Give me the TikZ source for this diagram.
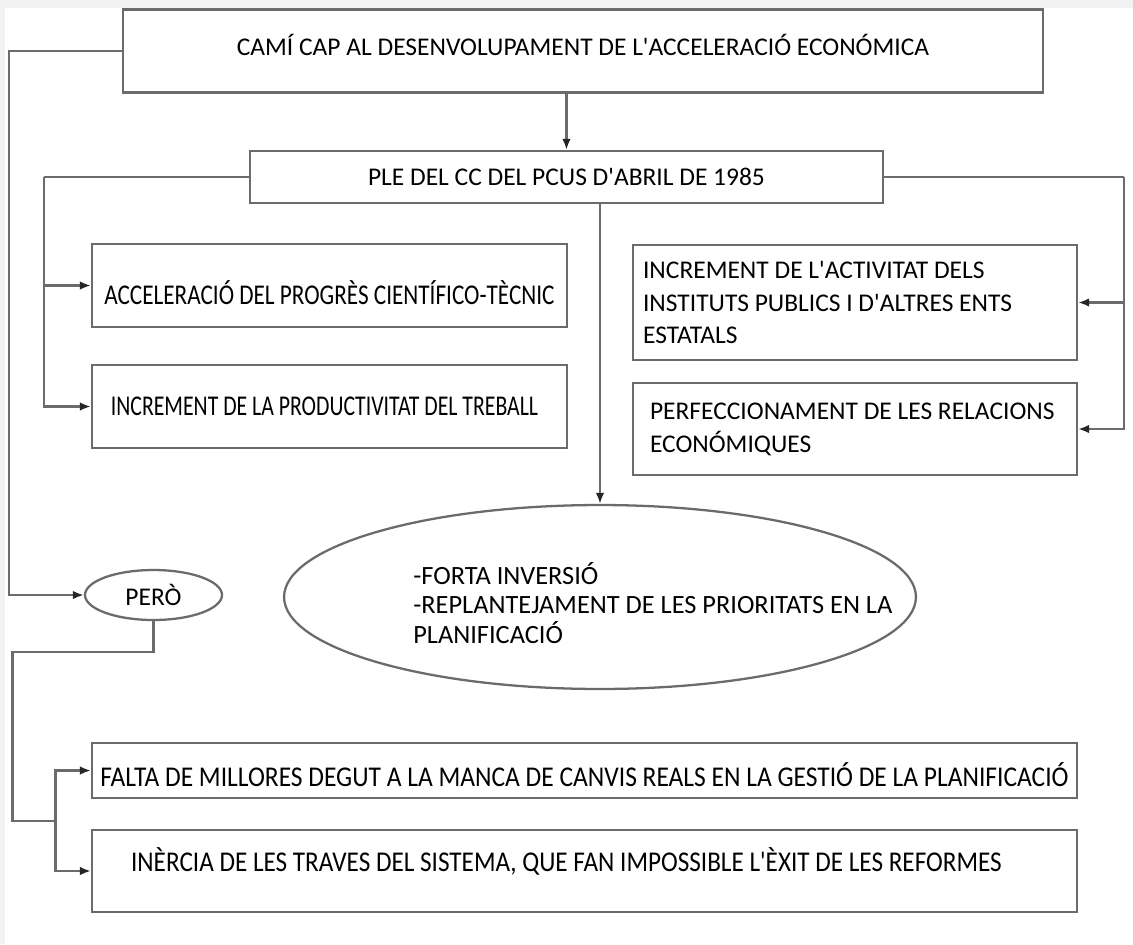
\documentclass[tikz,border=0pt]{standalone}
\usepackage{fontspec}
\usepackage{graphicx}
\newfontfamily\catala{Carlito}
\newcommand{\estret}[2]{\scalebox{#1}[1]{#2}}
\newcommand{\despl}[2]{\raisebox{#1}[0pt][0pt]{#2}}
\usetikzlibrary{arrows.meta,shapes.geometric}

\begin{document}
\begin{tikzpicture}[x=0.02cm,y=-0.02cm]
\tikzset{
    caixa/.style={draw=black!58, line width=1.3pt, rectangle, inner sep=0pt, font=\catala\fontsize{14.5}{18.7}\selectfont},
    gran/.style={font=\catala\fontsize{16.3}{20}\selectfont},
    ovalada/.style={draw=black!58, line width=1.3pt, ellipse, inner sep=0pt, font=\catala\fontsize{14.5}{18.7}\selectfont},
    etiqueta/.style={font=\catala\fontsize{15}{17}\selectfont, align=flush left, inner sep=0pt},
    linia/.style={draw=black!58, line width=1.3pt},
    fletxa/.style={linia, -{Latex[length=2.2mm,width=1.7mm,color=black!85]}}
}
\useasboundingbox (0,0) rectangle (1133,944);
\fill[gray!10] (0,0) rectangle (1133,8);
\fill[gray!10] (0,8) rectangle (5,944);

\node[caixa, minimum width=18.4cm, minimum height=1.66cm] (cami) at (583,51)
    {\despl{-0.08cm}{CAMÍ CAP AL DESENVOLUPAMENT DE L'ACCELERACIÓ ECONÓMICA}};
\node[caixa, minimum width=12.66cm, minimum height=1.04cm] (ple) at (566.5,177)
    {PLE DEL CC DEL PCUS D'ABRIL DE 1985};

\node[caixa, gran, minimum width=9.5cm, minimum height=1.66cm] (acc) at (329.5,285.5)
    {\despl{-0.375cm}{\estret{0.81}{ACCELERACIÓ DEL PROGRÈS CIENTÍFICO-TÈCNIC}}};
\node[caixa, gran, minimum width=9.5cm, minimum height=1.66cm] (prod) at (329.5,406.5)
    {\estret{0.76}{INCREMENT DE LA PRODUCTIVITAT DEL TREBALL}\makebox[0.2cm]{}};

\node[caixa, minimum width=8.88cm, minimum height=2.3cm, text width=8.48cm, align=flush left] (inst) at (855,302.5)
    {INCREMENT DE L'ACTIVITAT DELS\\INSTITUTS PUBLICS I D'ALTRES ENTS\\ESTATALS};
\node[caixa, minimum width=8.88cm, minimum height=1.84cm, text width=8.2cm, align=flush left] (rel) at (855,429)
    {PERFECCIONAMENT DE LES RELACIONS\\ECONÓMIQUES};

\node[ovalada, minimum width=12.64cm, minimum height=3.68cm] (elli) at (600,597) {};
\node[etiqueta, anchor=west] (idees) at (413,603)
    {-FORTA INVERSIÓ\\-REPLANTEJAMENT DE LES PRIORITATS EN LA\\PLANIFICACIÓ};
\node[ovalada, minimum width=2.74cm, minimum height=1cm] (pero) at (153.5,595) {PERÒ};

\node[caixa, gran, minimum width=19.7cm, minimum height=1.1cm] (falta) at (584.5,770.5)
    {\despl{-0.315cm}{\estret{0.89}{FALTA DE MILLORES DEGUT A LA MANCA DE CANVIS REALS EN LA GESTIÓ DE LA PLANIFICACIÓ}}};
\node[caixa, gran, minimum width=19.7cm, minimum height=1.64cm] (inercia) at (584.5,871)
    {\despl{-0.01cm}{\estret{0.88}{INÈRCIA DE LES TRAVES DEL SISTEMA, QUE FAN IMPOSSIBLE L'ÈXIT DE LES REFORMES}}\makebox[0.72cm]{}};

% fletxes
\draw[fletxa] (cami.south -| ple.north) -- (ple.north);
\draw[fletxa] (cami.west) -- ++(-113,0) |- (pero.west);
\draw[linia] (ple.west) -- ++(-205,0) coordinate (esq);
\draw[fletxa] (esq) |- (acc.west);
\draw[fletxa] (esq) |- (prod.west);
\draw[linia] (ple.east) -- ++(240,0) coordinate (dre);
\draw[fletxa] (dre) |- (inst.east);
\draw[fletxa] (dre) |- (rel.east);
\draw[fletxa] (ple.south -| elli.north) -- (elli.north);
\draw[linia] (pero.south) -- ++(0,31) -| ++(-141,169) -- ++(43,0) coordinate (bif);
\draw[fletxa] (bif) |- (falta.west);
\draw[fletxa] (bif) |- (inercia.west);
\end{tikzpicture}
\end{document}
